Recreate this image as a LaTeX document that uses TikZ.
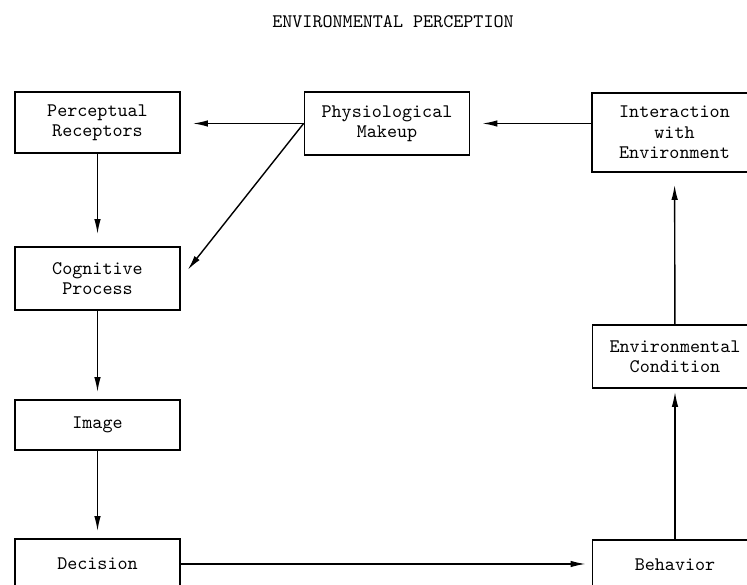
\documentclass[tikz,border=0pt]{standalone}
\usetikzlibrary{arrows.meta}
\begin{document}
\begin{tikzpicture}[>={Latex[length=3mm,width=1.3mm]},
  blockbox/.style={draw,line width=1pt,minimum width=3.3cm,align=center,inner sep=2pt,
    font=\ttfamily\fontsize{10.9pt}{11.6pt}\selectfont},
  flow/.style={->,line width=0.8pt}]
\useasboundingbox (0,0) rectangle (14.94,11.7);
\node[font=\ttfamily\fontsize{10.9pt}{12pt}\selectfont] (title) at (7.86,11.26) {ENVIRONMENTAL PERCEPTION};
\node[blockbox,minimum height=1.22cm] (perc) at (1.95,9.25) {Perceptual\\Receptors};
\node[blockbox,minimum height=1.26cm] (phys) at (7.74,9.23) {Physiological\\Makeup};
\node[blockbox,minimum height=1.58cm] (inter) at (13.49,9.05) {Interaction\\with\\Environment};
\node[blockbox,minimum height=1.26cm] (cog) at (1.95,6.13) {Cognitive\\Process};
\node[blockbox,minimum height=1.26cm] (envc) at (13.5,4.57) {Environmental\\Condition};
\node[blockbox,minimum height=1cm] (image) at (1.95,3.2) {Image};
\node[blockbox,minimum height=1cm] (dec) at (1.95,0.42) {Decision};
\node[blockbox,minimum height=1cm] (beh) at (13.5,0.4) {Behavior};
\draw[flow,shorten >=0.24cm] (phys.west) -- (perc.east |- phys.west);
\draw[flow,shorten >=0.24cm] (inter.west |- phys.east) -- (phys.east);
\draw[flow,shorten >=0.22cm] (phys.west) -- (cog.east);
\draw[flow,shorten >=0.24cm] (perc) -- (cog);
\draw[flow,shorten >=0.14cm] (cog) -- (image);
\draw[flow,shorten >=0.14cm] (image) -- (dec);
\draw[flow,shorten >=0.12cm] (dec.east) -- (beh.west |- dec.east);
\draw[flow,shorten >=0.06cm] (beh) -- (envc);
\draw[flow,shorten >=0.24cm] (envc) -- (inter);
\end{tikzpicture}
\end{document}
